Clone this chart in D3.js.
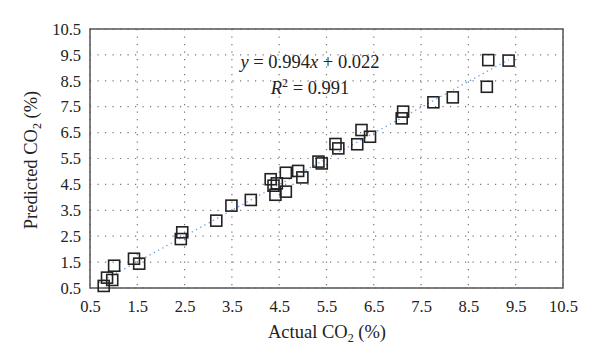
<!DOCTYPE html>
<html><head><meta charset="utf-8">
<script src="https://cdn.jsdelivr.net/npm/d3@7"></script>
<style>body{margin:0;background:#fff}svg{display:block}text{font-family:"Liberation Serif","DejaVu Serif",serif;fill:#222}</style>
</head><body><svg id="c" width="600" height="364"></svg>
<script>
const actual =    [0.79,0.86,0.97,1.01,1.43,1.54,2.42,2.45,3.17,3.49,3.90,4.42,4.64,4.32,4.45,4.38,4.64,4.90,4.99,5.33,5.40,5.69,5.75,6.15,6.24,6.42,7.12,7.09,7.76,8.17,8.92,9.35,8.89];
const predicted = [0.58,0.90,0.81,1.36,1.63,1.44,2.39,2.65,3.10,3.68,3.90,4.10,4.22,4.70,4.54,4.45,4.95,5.02,4.77,5.38,5.31,6.06,5.89,6.05,6.60,6.34,7.31,7.05,7.67,7.86,9.30,9.28,8.27];
const ticks = [0.5,1.5,2.5,3.5,4.5,5.5,6.5,7.5,8.5,9.5,10.5];
const slope = 0.994, intercept = 0.022;

const svg = d3.select("#c");
const L=90,T=29,R=563,B=288;
const x = d3.scaleLinear().domain([0.5,10.5]).range([L,R]);
const y = d3.scaleLinear().domain([0.5,10.5]).range([B,T]);

svg.append("g").selectAll("line").data(ticks).join("line")
  .attr("x1",L).attr("x2",R).attr("y1",d=>y(d)).attr("y2",d=>y(d))
  .attr("stroke","#777").attr("stroke-width",1.2).attr("stroke-dasharray","1.2,6.3");
svg.append("g").selectAll("line").data(ticks).join("line")
  .attr("y1",T).attr("y2",B).attr("x1",d=>x(d)).attr("x2",d=>x(d))
  .attr("stroke","#777").attr("stroke-width",1.2).attr("stroke-dasharray","1.2,6.3");

const xa = svg.append("g").attr("transform",`translate(0,${B})`)
  .call(d3.axisBottom(x).tickValues(ticks).tickFormat(d3.format(".1f")).tickSize(0).tickPadding(12));
const ya = svg.append("g").attr("transform",`translate(${L},0)`)
  .call(d3.axisLeft(y).tickValues(ticks).tickFormat(d3.format(".1f")).tickSize(0).tickPadding(9));
[xa,ya].forEach(a=>{a.select(".domain").remove();a.selectAll("text").attr("font-size",16.5).attr("font-family","Liberation Serif").attr("fill","#222");});

svg.append("rect").attr("x",L).attr("y",T).attr("width",R-L).attr("height",B-T)
  .attr("fill","none").attr("stroke","#555").attr("stroke-width",1.5);

const x0=d3.min(actual)-0.1, x1=d3.max(actual);
svg.append("line").attr("x1",x(x0)).attr("y1",y(slope*x0+intercept)).attr("x2",x(x1)).attr("y2",y(slope*x1+intercept))
  .attr("stroke","#6a9be0").attr("stroke-width",1.3).attr("stroke-dasharray","1.3,3.5");

const s=11;
svg.append("g").selectAll("rect").data(actual.map((a,i)=>[a,predicted[i]])).join("rect")
  .attr("x",d=>x(d[0])-s/2).attr("y",d=>y(d[1])-s/2).attr("width",s).attr("height",s)
  .attr("fill","none").attr("stroke","#222").attr("stroke-width",1.6);

const t1 = svg.append("text").attr("x",310).attr("y",68).attr("text-anchor","middle").attr("font-size",18.5);
t1.append("tspan").attr("font-style","italic").text("y");
t1.append("tspan").text(" = 0.994");
t1.append("tspan").attr("font-style","italic").text("x");
t1.append("tspan").text(" + 0.022");
const t2 = svg.append("text").attr("x",310).attr("y",94).attr("text-anchor","middle").attr("font-size",18.5);
t2.append("tspan").attr("font-style","italic").text("R");
t2.append("tspan").attr("font-size",12).attr("dy",-7).text("2");
t2.append("tspan").attr("dy",7).text(" = 0.991");

const xt = svg.append("text").attr("x",327).attr("y",338).attr("text-anchor","middle").attr("font-size",18.5);
xt.append("tspan").text("Actual CO");
xt.append("tspan").attr("font-size",12).attr("dy",4).text("2");
xt.append("tspan").attr("dy",-4).text(" (%)");
const yt = svg.append("text").attr("transform","translate(37,160) rotate(-90)").attr("text-anchor","middle").attr("font-size",18.5);
yt.append("tspan").text("Predicted CO");
yt.append("tspan").attr("font-size",12).attr("dy",4).text("2");
yt.append("tspan").attr("dy",-4).text(" (%)");
</script></body></html>
